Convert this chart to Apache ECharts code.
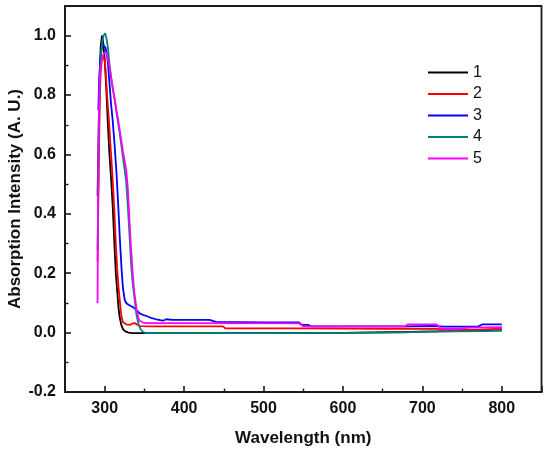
<!DOCTYPE html>
<html>
<head>
<meta charset="utf-8">
<script src="https://cdn.jsdelivr.net/npm/echarts@6.0.0/dist/echarts.min.js"></script>
<style>
  html, body { margin: 0; padding: 0; background: #fff; }
  #chart { width: 550px; height: 455px; }
</style>
</head>
<body>
<div id="chart"></div>
<script>
// 图例名称
var names = ['1', '2', '3', '4', '5'];
var colors = ['#000000', '#ff0000', '#0000ff', '#008080', '#ff00ff'];

// 1 黑
var wl1 = [291, 292, 293, 294, 295, 296.6, 298, 300, 302, 304, 306, 308, 310, 312, 314, 316, 317.5, 319, 321, 323, 326, 330, 335, 400, 500, 600, 680, 720, 760, 800];
var ab1 = [0.46, 0.62, 0.78, 0.90, 0.965, 1.0, 0.98, 0.92, 0.82, 0.70, 0.60, 0.52, 0.43, 0.31, 0.20, 0.13, 0.08, 0.05, 0.025, 0.012, 0.004, 0.0, -0.002, -0.002, -0.002, -0.001, 0.002, 0.004, 0.006, 0.008];

// 2 红
var wl2 = [291, 292, 293, 294, 295, 296.5, 298.5, 300, 301, 303, 305.3, 307.5, 309.5, 312, 314, 315.8, 317.5, 318.9, 320, 321, 323, 325, 327, 329.5, 331.6, 334.5, 337.8, 341, 344, 360, 400, 449, 452, 550, 650, 720, 723, 770, 800];
var ab2 = [0.24, 0.45, 0.65, 0.80, 0.88, 0.92, 0.93, 0.915, 0.89, 0.80, 0.716, 0.62, 0.54, 0.42, 0.30, 0.211, 0.15, 0.11, 0.08, 0.055, 0.035, 0.03, 0.028, 0.026, 0.026, 0.03, 0.032, 0.027, 0.022, 0.021, 0.021, 0.021, 0.014, 0.014, 0.013, 0.013, 0.009, 0.009, 0.014];

// 3 蓝
var wl3 = [292, 293, 294.5, 296, 297.5, 299, 301, 302.5, 304, 306, 308, 310, 312.5, 315, 317, 319, 321.3, 323, 325.2, 327.3, 330, 334, 337.8, 341, 344, 348, 352.5, 358, 365, 370, 373.4, 377.6, 385, 400, 432, 440, 500, 545, 548, 556, 560, 680, 713, 727, 770, 776, 800];
var ab3 = [0.75, 0.85, 0.92, 0.955, 0.97, 0.972, 0.96, 0.94, 0.91, 0.84, 0.77, 0.716, 0.63, 0.53, 0.43, 0.32, 0.211, 0.15, 0.11, 0.099, 0.094, 0.088, 0.082, 0.073, 0.065, 0.06, 0.056, 0.05, 0.045, 0.042, 0.04, 0.045, 0.043, 0.043, 0.043, 0.036, 0.034, 0.034, 0.026, 0.026, 0.021, 0.021, 0.023, 0.02, 0.02, 0.028, 0.028];

// 4 青
var wl4 = [291, 292, 293, 294, 295.5, 297, 298.5, 300.4, 302, 304, 306, 309, 312.6, 315.5, 318.9, 322, 325, 327, 329, 331, 333.5, 335.5, 337.8, 340, 342.5, 345, 348, 352, 400, 500, 600, 680, 700, 780, 800];
var ab4 = [0.28, 0.50, 0.72, 0.86, 0.94, 0.98, 1.0, 1.008, 0.995, 0.96, 0.905, 0.84, 0.784, 0.73, 0.671, 0.61, 0.55, 0.51, 0.43, 0.34, 0.22, 0.16, 0.11, 0.06, 0.03, 0.012, 0.003, -0.002, -0.002, -0.002, -0.001, 0.001, 0.003, 0.005, 0.007];

// 5 品红
var wl5 = [291, 291.5, 292.5, 293.5, 295, 298, 301.2, 303.5, 306, 308, 309.5, 311, 313, 315, 317, 319, 321, 323, 325, 327, 329, 331, 333, 335, 337, 338.6, 340.5, 342.5, 344, 348, 352.5, 400, 545, 550, 678, 682, 718, 724, 745, 760, 800];
var ab5 = [0.10, 0.40, 0.70, 0.85, 0.90, 0.935, 0.946, 0.93, 0.895, 0.86, 0.835, 0.81, 0.78, 0.745, 0.716, 0.68, 0.645, 0.61, 0.58, 0.55, 0.49, 0.39, 0.29, 0.21, 0.14, 0.11, 0.07, 0.048, 0.04, 0.034, 0.032, 0.032, 0.031, 0.021, 0.021, 0.028, 0.028, 0.013, 0.013, 0.017, 0.018];

var wls = [wl1, wl2, wl3, wl4, wl5];
var abs = [ab1, ab2, ab3, ab4, ab5];

var fontName = 'Liberation Sans, Arial, sans-serif';
var axisColor = '#1a1a1a';

var myChart = echarts.init(document.getElementById('chart'), null, { renderer: 'canvas' });

var seriesList = names.map(function (n, i) {
    return {
        name: n,
        type: 'line',
        symbol: 'none',
        smooth: false,
        lineStyle: { width: 1.8, color: colors[i] },
        itemStyle: { color: colors[i] },
        data: wls[i].map(function (x, k) { return [x, abs[i][k]]; })
    };
});

var option = {
    animation: false,
    backgroundColor: '#ffffff',
    grid: {
        left: 65,
        right: 8.5,
        top: 6,
        bottom: 63,
        outerBoundsMode: 'none',
        containLabel: false,
        show: true,
        borderColor: axisColor,
        borderWidth: 1.8,
        backgroundColor: 'transparent'
    },
    legend: {
        orient: 'vertical',
        left: 428,
        top: 64.5,
        padding: 0,
        icon: 'rect',
        itemWidth: 40,
        itemHeight: 2,
        itemGap: 5.5,
        textStyle: {
            fontFamily: fontName,
            fontSize: 16,
            lineHeight: 15,
            color: '#111'
        },
        data: names
    },
    xAxis: {
        type: 'value',
        min: 250,
        max: 850,
        splitNumber: 6,
        name: 'Wavelength (nm)',
        nameLocation: 'middle',
        nameGap: 37.5,
        nameMoveOverlap: false,
        nameTextStyle: { fontFamily: fontName, fontSize: 17, fontWeight: 'bold', color: '#111' },
        axisLine: { show: true, onZero: false, lineStyle: { color: axisColor, width: 1.8 } },
        // 刻度朝内
        axisTick: { show: true, inside: true, length: 6, lineStyle: { color: axisColor, width: 1.6 } },
        minorTick: { show: true, splitNumber: 2, length: 3.5, lineStyle: { color: axisColor, width: 1.4 } },
        axisLabel: {
            margin: 9,
            showMinLabel: false,
            showMaxLabel: false,
            fontFamily: fontName,
            fontSize: 16,
            fontWeight: 'bold',
            color: '#111'
        },
        splitLine: { show: false },
        minorSplitLine: { show: false }
    },
    yAxis: {
        type: 'value',
        min: -0.2,
        max: 1.1,
        splitNumber: 7,
        name: 'Absorption Intensity (A. U.)',
        nameLocation: 'middle',
        nameGap: 41.5,
        nameMoveOverlap: false,
        nameTextStyle: { fontFamily: fontName, fontSize: 17, fontWeight: 'bold', color: '#111' },
        axisLine: { show: true, onZero: false, lineStyle: { color: axisColor, width: 1.8 } },
        axisTick: { show: true, inside: true, length: 6, lineStyle: { color: axisColor, width: 1.6 } },
        minorTick: { show: true, splitNumber: 2, length: 3.5, lineStyle: { color: axisColor, width: 1.4 } },
        axisLabel: {
            margin: 9,
            showMaxLabel: false,
            fontFamily: fontName,
            fontSize: 16,
            fontWeight: 'bold',
            color: '#111',
            formatter: function (v) { return v.toFixed(1); }
        },
        splitLine: { show: false },
        minorSplitLine: { show: false }
    },
    series: seriesList
};

myChart.setOption(option);
</script>
</body>
</html>
